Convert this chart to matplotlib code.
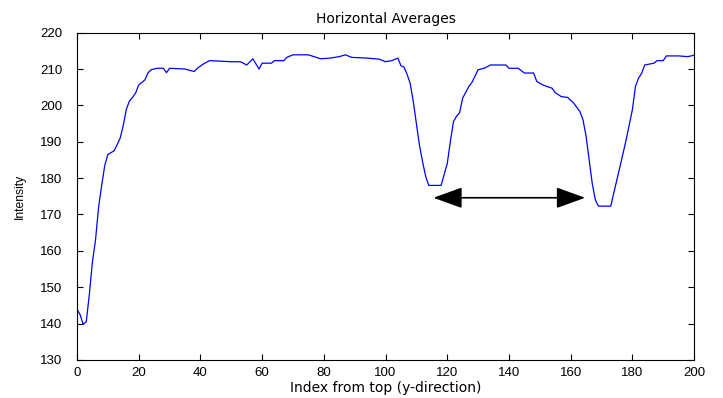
import matplotlib
matplotlib.use("Agg")
import matplotlib.pyplot as plt
from matplotlib import font_manager

plt.rcParams['font.family'] = ['Liberation Sans', 'DejaVu Sans']

index = [0, 1, 2, 3, 4, 5, 6, 7, 8, 9, 10, 12, 13, 14, 15, 16, 17, 18, 19, 20,
         22, 23, 24, 26, 28, 29, 30, 35, 38, 39, 41, 43, 50, 53, 55, 57, 59, 60,
         63, 64, 67, 68, 70, 75, 79, 82, 85, 87, 89, 94, 98, 100, 102, 104, 105,
         106, 107, 108, 109, 110, 111, 112, 113, 114, 118, 120, 121, 122, 123,
         124, 125, 127, 128, 130, 132, 134, 139, 140, 143, 145, 148, 149, 151,
         154, 155, 157, 159, 161, 163, 164, 165, 166, 167, 168, 169, 173, 174,
         176, 178, 180, 181, 182, 183, 184, 187, 188, 190, 191, 195, 198, 200]
intensity = [143.9, 142.5, 139.8, 140.5, 148, 157, 163, 172, 178, 183.5, 186.5,
             187.5, 189.2, 191, 194.5, 199, 201.2, 202.2, 203.4, 205.6,
             207, 208.9, 209.8, 210.2, 210.2, 209, 210.2, 210, 209.3, 210.2,
             211.4, 212.3, 212, 212, 211.1, 212.8, 210, 211.6,
             211.6, 212.3, 212.3, 213.2, 213.9, 213.9, 212.8, 213, 213.4, 213.9,
             213.2, 213, 212.7, 212, 212.3, 213, 210.9,
             210.5, 208.5, 206, 201, 195, 189, 184.5, 180.5, 178, 178, 184, 190,
             195.5, 197, 198, 202, 205.2, 206.3, 209.8, 210.2, 211.1, 211.1,
             210.2, 210.2, 208.9, 208.9, 206.6, 205.6, 204.7, 203.5, 202.4,
             202.2, 200.6, 198.3, 196, 191.5, 185, 178.5, 174, 172.3, 172.3,
             176, 183.2, 190.6, 198.8, 205.2, 207.5, 208.8, 211.1, 211.6, 212.3,
             212.3, 213.6, 213.6, 213.4, 213.8]

arrow_x = [115.5, 164.7]
arrow_y = 174.6

xticks = list(range(0, 201, 20))
yticks = list(range(130, 221, 10))

names = {f.name for f in font_manager.fontManager.ttflist}
ylabel_family = ['Liberation Sans Narrow', 'Liberation Sans'] if 'Liberation Sans Narrow' in names else ['Liberation Sans']
ylabel_size = 9.5 if 'Liberation Sans Narrow' in names else 8.7

fig = plt.figure(figsize=(7.23, 3.98), dpi=100)
ax = fig.add_axes([0.1065, 0.0955, 0.8535, 0.8225])

ax.plot(index, intensity, color='#0000ff', linewidth=0.9)

ax.annotate('', xy=(arrow_x[0], arrow_y), xytext=(arrow_x[1], arrow_y),
            arrowprops=dict(arrowstyle='<|-|>,head_length=1.8,head_width=0.65',
                            mutation_scale=10, color='black', lw=1.2,
                            shrinkA=0, shrinkB=0))

ax.set_xlim(0, 200)
ax.set_ylim(130, 220)
ax.set_xticks(xticks)
ax.set_yticks(yticks)
ax.tick_params(direction='in', top=True, right=True, length=4, width=0.8,
               labelsize=9.5)
ax.tick_params(axis='y', pad=10.5)
ax.tick_params(axis='x', pad=5)
for s in ax.spines.values():
    s.set_linewidth(0.8)

ax.set_title('Horizontal Averages', fontsize=10, pad=7,
             family=['DejaVu Sans'])
ax.set_xlabel('Index from top (y-direction)', fontsize=10, labelpad=1.5,
              family=['DejaVu Sans'])
ax.set_ylabel('Intensity', fontsize=ylabel_size, labelpad=10.5,
              family=ylabel_family)

fig.savefig('out.png', dpi=100)
